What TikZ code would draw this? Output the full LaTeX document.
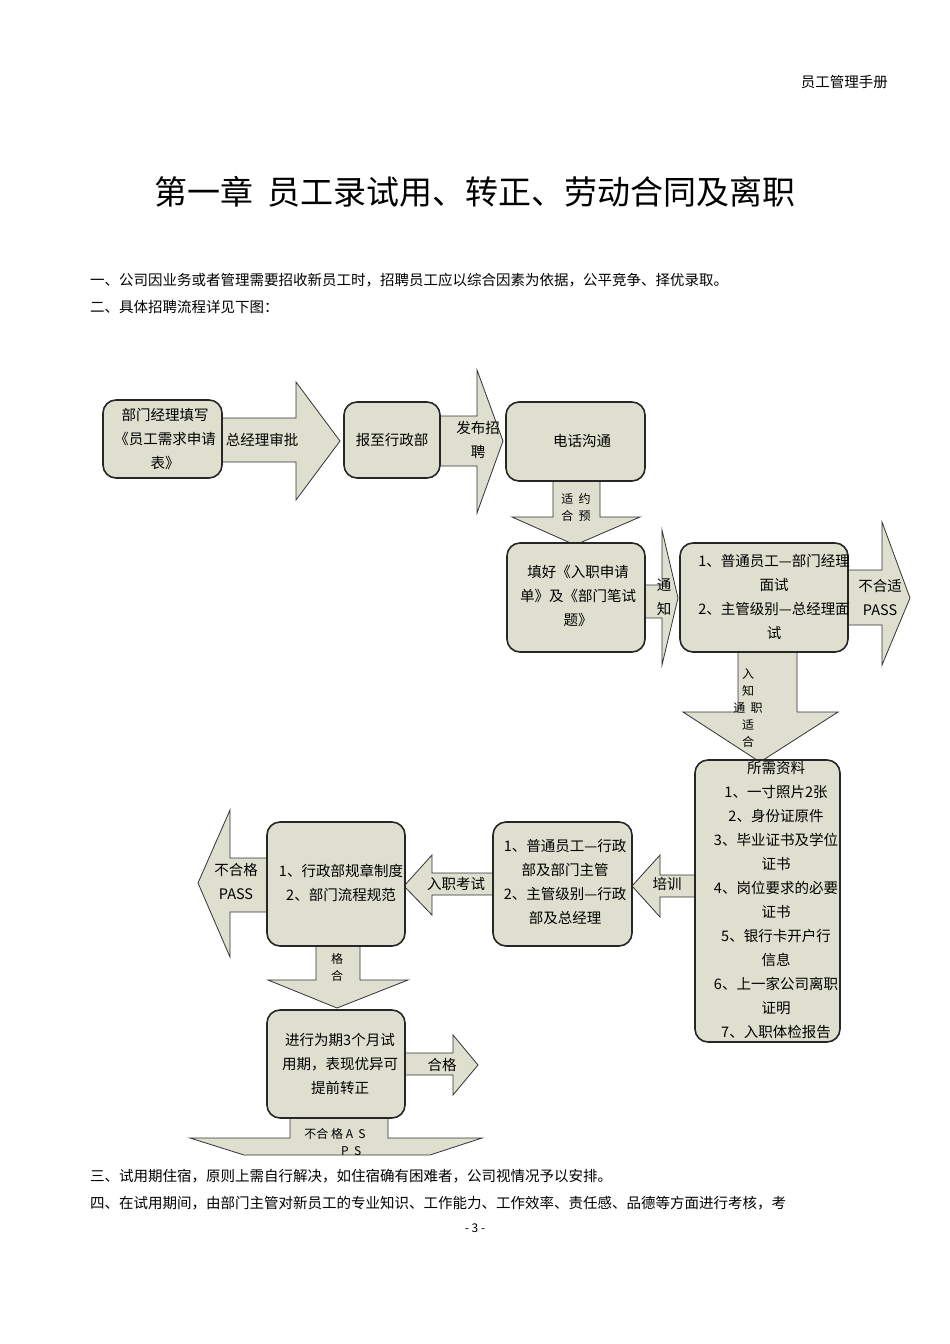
\documentclass[tikz,border=0pt]{standalone}
\usepackage{fontspec}
\setmainfont{Noto Sans CJK SC}
\begin{document}
\begin{tikzpicture}[x=1pt,y=-1pt,
  boxc/.style={},
  bx/.style={draw=black!85,line width=1.6pt,fill=fillc,rounded corners=13},
  arr/.style={draw=black!80,line width=0.8pt,fill=fillc,line join=miter},
  t/.style={font=\fontsize{14.5}{24}\selectfont,align=center,inner sep=0pt},
  s/.style={font=\fontsize{12}{17}\selectfont,align=center,inner sep=0pt}]
\definecolor{fillc}{RGB}{222,223,206}
\useasboundingbox[fill=white] (0,0) rectangle (950,1344);
% header and text
\node[t,anchor=east] (hdr) at (888,82) {员工管理手册};
\node[inner sep=0pt,font=\fontsize{33}{36}\selectfont] (title) at (475,192) {第一章\ \ 员工录试用、转正、劳动合同及离职};
\node[t,anchor=west] (p1) at (90,280) {一、公司因业务或者管理需要招收新员工时，招聘员工应以综合因素为依据，公平竞争、择优录取。};
\node[t,anchor=west] (p2) at (90,307) {二、具体招聘流程详见下图：};
% arrows (drawn first)
\draw[arr] (222,418)--(296,418)--(296,382)--(340,441)--(296,500)--(296,462)--(222,462)--cycle;
\draw[arr] (440,416)--(477,416)--(477,370)--(503,441)--(477,513)--(477,466)--(440,466)--cycle;
\draw[arr] (553,481)--(600,481)--(600,517)--(640,517)--(575,545)--(512,517)--(553,517)--cycle;
\draw[arr] (645,585)--(662,585)--(662,530)--(678,598)--(662,665)--(662,618)--(645,618)--cycle;
\draw[arr] (848,570)--(882,570)--(882,522)--(910,598)--(882,665)--(882,625)--(848,625)--cycle;
\draw[arr] (738,652)--(797,652)--(797,712)--(838,712)--(760,762)--(683,712)--(738,712)--cycle;
\draw[arr] (695,875)--(660,875)--(660,855)--(632,886)--(660,917)--(660,897)--(695,897)--cycle;
\draw[arr] (493,873)--(432,873)--(432,855)--(404,886)--(432,915)--(432,895)--(493,895)--cycle;
\draw[arr] (267,858)--(230,858)--(230,810)--(198,883)--(230,957)--(230,912)--(267,912)--cycle;
\draw[arr] (316,946)--(360,946)--(360,980)--(408,980)--(337,1008)--(268,980)--(316,980)--cycle;
\draw[arr] (405,1053)--(453,1053)--(453,1035)--(478,1065)--(453,1095)--(453,1075)--(405,1075)--cycle;
\draw[arr] (290,1118)--(388,1118)--(388,1138)--(482,1138)--(430,1155)--(244,1155)--(190,1138)--(290,1138)--cycle;
% boxes
\node[bx,minimum width=119,minimum height=78] (b1) at (162.5,439) {};
\node[bx,minimum width=96,minimum height=76] (b2) at (392,440) {};
\node[bx,minimum width=139,minimum height=79] (b3) at (575.5,441.5) {};
\node[bx,minimum width=138,minimum height=109] (b4) at (576,597.5) {};
\node[bx,minimum width=168,minimum height=109] (b5) at (764,597.5) {};
\node[bx,minimum width=145,minimum height=282] (b6) at (767.5,901) {};
\node[bx,minimum width=139,minimum height=124] (b7) at (562.5,884) {};
\node[bx,minimum width=138,minimum height=124] (b8) at (336,884) {};
\node[bx,minimum width=138,minimum height=108] (b9) at (336,1064) {};
% box texts
\node[t] at (165,439) {部门经理填写\\《员工需求申请\\表》};
\node[t] at (392,440) {报至行政部};
\node[t] at (582,441) {电话沟通};
\node[t] at (578,596) {填好《入职申请\\单》及《部门笔试\\题》};
\node[t] at (774,597) {1、普通员工—部门经理\\面试\\2、主管级别—总经理面\\试};
\node[t] at (776,900) {所需资料\\1、一寸照片2张\\2、身份证原件\\3、毕业证书及学位\\证书\\4、岗位要求的必要\\证书\\5、银行卡开户行\\信息\\6、上一家公司离职\\证明\\7、入职体检报告};
\node[t] at (565,882) {1、普通员工—行政\\部及部门主管\\2、主管级别—行政\\部及总经理};
\node[t] at (341,883) {1、行政部规章制度\\2、部门流程规范};
\node[t] at (340,1064) {进行为期3个月试\\用期，表现优异可\\提前转正};
% arrow labels
\node[t] at (262,440) {总经理审批};
\node[t] at (478,440) {发布招\\聘};
\node[s] at (576,507) {适\ \ 约\\合\ \ 预};
\node[t] at (664,597) {通\\知};
\node[t] at (880,597) {不合适\\PASS};
\node[s] at (748,708) {入\\知\\通\ \ 职\\适\\合};
\node[t] at (667,884) {培训};
\node[t] at (456,884) {入职考试};
\node[t] at (236,881) {不合格\\PASS};
\node[s] at (337,967) {格\\合};
\node[t] at (442,1065) {合格};
\node[s] at (335,1142) {不合\ 格\ A\ \ S\\\ \ \ \ \ \ \ \ \ \ \ \ P\ \ S};
% bottom text
\node[t,anchor=west] (p3) at (90,1176) {三、试用期住宿，原则上需自行解决，如住宿确有困难者，公司视情况予以安排。};
\node[t,anchor=west] (p4) at (90,1203) {四、在试用期间，由部门主管对新员工的专业知识、工作能力、工作效率、责任感、品德等方面进行考核，考};
\node[s] (pg) at (475,1228) {- 3 -};
\end{tikzpicture}
\end{document}
